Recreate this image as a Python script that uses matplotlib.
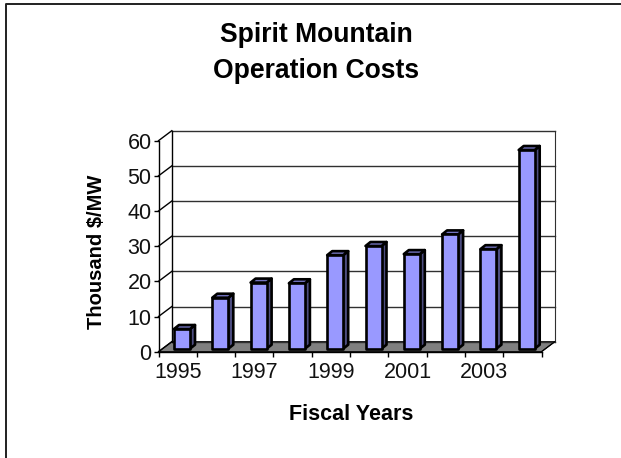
import matplotlib
matplotlib.use("Agg")
import matplotlib.pyplot as plt
from matplotlib.patches import Polygon, Rectangle
from matplotlib.lines import Line2D

years = [1995, 1996, 1997, 1998, 1999, 2000, 2001, 2002, 2003, 2004]
costs = [5.6, 14.5, 18.8, 18.6, 26.6, 29.2, 26.9, 32.5, 28.3, 56.5]
y_ticks = [0, 10, 20, 30, 40, 50, 60]
x_labels = ["1995", "1997", "1999", "2001", "2003"]

plt.rcParams["font.family"] = ["Liberation Sans", "DejaVu Sans"]

W, H = 621, 458
fig = plt.figure(figsize=(W / 100, H / 100), dpi=100, facecolor="white")

# figure frame: only the top and left edges are visible
fig.add_artist(Line2D([5.5 / W, 5.5 / W, 1], [0, 1 - 3.5 / H, 1 - 3.5 / H], transform=fig.transFigure,
                      color="#202020", lw=1.4))

L, R, T, B = 158.5, 541.5, 140.7, 351.7
ax = fig.add_axes([L / W, 1 - B / H, (R - L) / W, (B - T) / H])
ax.set_xlim(0, len(years))
ax.set_ylim(0, 60)
ax.patch.set_visible(False)
for s in ["top", "right"]:
    ax.spines[s].set_visible(False)
for s in ["left", "bottom"]:
    ax.spines[s].set_linewidth(1.0)
    ax.spines[s].set_zorder(6)

px = (len(years)) / (R - L)      # data units in x for one pixel
py = 60 / (B - T)                # data units in y for one pixel
DX, DY = 13.3 * px, 10 * py      # depth of the box

n = len(years)
# floor
ax.add_patch(Polygon([(0, 0), (n, 0), (n + DX, DY), (DX, DY)], fc="#808080", ec="black", lw=0.8,
                     clip_on=False, zorder=1))
# back walls and gridlines
for v in y_ticks:
    ax.plot([DX, n + DX], [v + DY, v + DY], color="#303030", lw=1.0, clip_on=False, zorder=1.5)
    ax.plot([0, DX], [v, v + DY], color="black", lw=1.0, clip_on=False, zorder=1.5)
ax.plot([DX, DX], [DY, 60 + DY], color="black", lw=1.0, clip_on=False, zorder=1.5)
ax.plot([n + DX, n + DX], [DY, 60 + DY], color="#303030", lw=0.8, clip_on=False, zorder=1.5)
ax.plot([n, n + DX], [0, DY], color="black", lw=0.8, clip_on=False, zorder=1.5)

# bars
bw = 16 * px
ox, oy = 15.5 * px, 3 * py       # front face lower-left offset within a category slot
bdx, bdy = 5 * px, 4 * py        # bar depth
for i, v in enumerate(costs):
    x0 = i + ox
    y0 = oy
    x1 = x0 + bw
    y1 = y0 + v
    kw = dict(ec="black", lw=1.9, joinstyle="round", clip_on=False, zorder=3)
    ax.add_patch(Polygon([(x1, y0), (x1 + bdx, y0 + bdy), (x1 + bdx, y1 + bdy), (x1, y1)], fc="#4D4D80", **kw))
    ax.add_patch(Polygon([(x0, y1), (x1, y1), (x1 + bdx, y1 + bdy), (x0 + bdx, y1 + bdy)], fc="#7373BF", **kw))
    ax.add_patch(Rectangle((x0, y0), bw, v, fc="#9999FF", **kw))

ax.set_yticks(y_ticks)
ax.set_xticks(range(n + 1))
ax.set_xticklabels([""] * (n + 1))
ax.tick_params(axis="both", direction="out", length=3.5, width=1.0, color="black")
ax.tick_params(axis="y", labelsize=15.5, pad=1.5, labelcolor="#111111")
for i, lab in zip(range(0, n, 2), x_labels):
    fig.text((L + (i + 0.5) * (R - L) / n) / W, 1 - 373 / H, lab, ha="center", va="center",
             fontsize=15.5, color="#111111")

fig.text(316.5 / W, 1 - 35 / H, "Spirit Mountain", ha="center", va="center", fontsize=19.1, fontweight="bold")
fig.text(316.5 / W, 1 - 71.5 / H, "Operation Costs", ha="center", va="center", fontsize=19.1, fontweight="bold")
fig.text(351 / W, 1 - 415 / H, "Fiscal Years", ha="center", va="center", fontsize=15.5, fontweight="bold")
fig.text(96 / W, 1 - 251.5 / H, "Thousand $/MW", ha="center", va="center", rotation=90, fontsize=14.5, fontweight="bold")

fig.savefig("out.png", dpi=100)
